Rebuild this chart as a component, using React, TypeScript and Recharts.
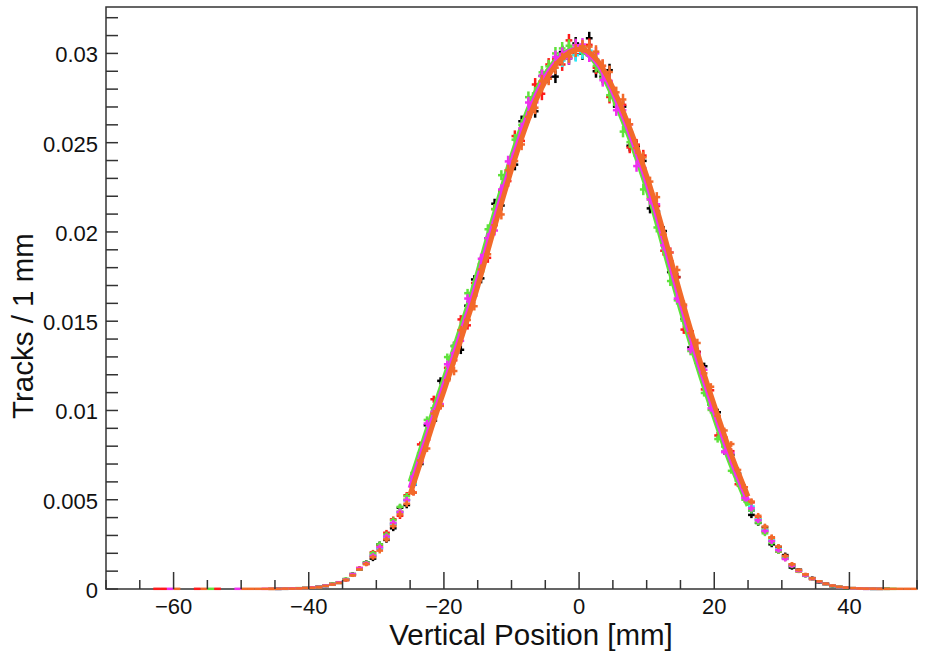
import React from "react";
import {
  ComposedChart,
  Scatter,
  Line,
  XAxis,
  YAxis,
  ErrorBar,
  ReferenceArea,
} from "recharts";

// bin contents are typed in units of 1e-5 tracks / mm
const UNIT = 1e-5;

const BIN_X = [
  -45.5, -44.5, -43.5, -42.5, -41.5, -40.5, -39.5, -38.5, -37.5, -36.5,
  -35.5, -34.5, -33.5, -32.5, -31.5, -30.5, -29.5, -28.5, -27.5, -26.5,
  -25.5, -24.5, -23.5, -22.5, -21.5, -20.5, -19.5, -18.5, -17.5, -16.5,
  -15.5, -14.5, -13.5, -12.5, -11.5, -10.5, -9.5, -8.5, -7.5, -6.5,
  -5.5, -4.5, -3.5, -2.5, -1.5, -0.5, 0.5, 1.5, 2.5, 3.5,
  4.5, 5.5, 6.5, 7.5, 8.5, 9.5, 10.5, 11.5, 12.5, 13.5,
  14.5, 15.5, 16.5, 17.5, 18.5, 19.5, 20.5, 21.5, 22.5, 23.5,
  24.5, 25.5, 26.5, 27.5, 28.5, 29.5, 30.5, 31.5, 32.5, 33.5,
  34.5, 35.5, 36.5, 37.5, 38.5, 39.5, 40.5, 41.5, 42.5, 43.5,
  44.5, 45.5,
];

// statistical error per bin (same units)
const BIN_ERR = [
  4, 4, 4, 4, 4, 4, 6, 6, 6, 6,
  6, 9, 9, 9, 12, 14, 16, 16, 16, 18,
  18, 16, 16, 20, 20, 20, 20, 24, 24, 24,
  24, 28, 28, 28, 28, 32, 32, 32, 32, 36,
  36, 36, 36, 36, 36, 36, 36, 36, 36, 36,
  36, 32, 32, 32, 32, 32, 28, 28, 28, 28,
  24, 24, 24, 24, 20, 20, 20, 16, 16, 16,
  18, 18, 16, 16, 16, 14, 14, 12, 9, 9,
  9, 6, 6, 6, 6, 6, 4, 4, 4, 4,
  4, 4,
];

const BLACK = [
  0, 1, 1, 2, 4, 6, 7, 13, 17, 29,
  34, 55, 84, 110, 150, 170, 250, 275, 340, 455,
  470, 600, 700, 917, 943, 1166, 1179, 1361, 1340, 1587,
  1734, 1740, 1965, 2158, 2148, 2345, 2377, 2620, 2675, 2676,
  2874, 2868, 2870, 3008, 2973, 3056, 3000, 3085, 2900, 2870,
  2906, 2702, 2702, 2483, 2479, 2398, 2132, 2115, 2005, 1775,
  1747, 1513, 1353, 1328, 1248, 1033, 990, 768, 752, 647,
  550, 415, 370, 345, 250, 235, 190, 120, 108, 74,
  61, 38, 30, 16, 12, 6, 5, 2, 2, 1,
  0, 1,
];

const RED = [
  1, 2, 2, 3, 3, 5, 9, 11, 19, 25,
  38, 50, 78, 118, 140, 205, 240, 315, 390, 410,
  525, 540, 810, 837, 1063, 1026, 1239, 1281, 1510, 1477,
  1714, 1820, 1855, 2128, 2228, 2285, 2537, 2510, 2645, 2826,
  2774, 2938, 2970, 2938, 3073, 2996, 3030, 3048, 2920, 2930,
  2756, 2722, 2712, 2473, 2489, 2428, 2192, 2145, 1895, 1835,
  1747, 1453, 1443, 1328, 1118, 1113, 860, 848, 772, 587,
  520, 485, 400, 320, 285, 210, 180, 138, 98, 82,
  55, 43, 26, 19, 10, 8, 3, 3, 1, 2,
  1, 0,
];

const GREEN = [
  1, 1, 3, 2, 5, 4, 8, 13, 20, 28,
  37, 56, 83, 112, 148, 200, 250, 305, 385, 460,
  520, 650, 760, 947, 1013, 1076, 1299, 1361, 1450, 1657,
  1694, 1780, 2015, 2128, 2318, 2335, 2517, 2600, 2755, 2776,
  2894, 2928, 3000, 3028, 3043, 3046, 3030, 2988, 2930, 2860,
  2766, 2712, 2562, 2503, 2429, 2238, 2182, 2025, 1945, 1725,
  1617, 1503, 1333, 1268, 1098, 1003, 840, 798, 662, 607,
  500, 440, 372, 312, 258, 210, 170, 128, 100, 75,
  56, 40, 27, 17, 11, 6, 4, 2, 2, 1,
  1, 1,
];

const BLUE = [
  0, 1, 2, 3, 4, 5, 8, 12, 17, 26,
  35, 52, 79, 115, 143, 186, 228, 292, 362, 430,
  498, 585, 735, 860, 970, 1080, 1195, 1315, 1425, 1550,
  1660, 1795, 1940, 2060, 2200, 2320, 2450, 2555, 2670, 2750,
  2838, 2895, 2955, 2985, 3010, 3020, 3018, 2995, 2955, 2905,
  2820, 2745, 2650, 2555, 2445, 2340, 2218, 2098, 1950, 1818,
  1672, 1545, 1410, 1290, 1165, 1055, 938, 830, 720, 628,
  532, 440, 388, 328, 270, 220, 175, 132, 104, 77,
  59, 40, 29, 18, 11, 7, 4, 3, 1, 1,
  1, 0,
];

const YELLOW = [
  1, 0, 2, 3, 4, 6, 8, 11, 18, 28,
  36, 54, 81, 113, 146, 190, 232, 288, 366, 436,
  502, 595, 745, 850, 980, 1090, 1205, 1305, 1435, 1540,
  1670, 1805, 1930, 2075, 2190, 2330, 2440, 2565, 2660, 2762,
  2828, 2905, 2945, 2995, 3005, 3030, 3015, 3005, 2965, 2895,
  2830, 2738, 2658, 2548, 2455, 2332, 2228, 2090, 1960, 1810,
  1682, 1538, 1418, 1283, 1172, 1048, 945, 822, 726, 622,
  545, 455, 392, 332, 275, 224, 170, 135, 101, 79,
  57, 42, 28, 19, 12, 7, 4, 3, 2, 1,
  1, 0,
];

const MAGENTA = [
  1, 1, 2, 3, 4, 5, 9, 12, 19, 27,
  37, 52, 82, 116, 144, 186, 234, 294, 370, 432,
  498, 630, 710, 927, 993, 1036, 1259, 1321, 1390, 1627,
  1644, 1850, 1965, 2008, 2238, 2395, 2437, 2580, 2725, 2726,
  2874, 2878, 2980, 2998, 2973, 3046, 3050, 2988, 3000, 2850,
  2846, 2682, 2682, 2603, 2369, 2358, 2182, 2155, 1925, 1885,
  1627, 1583, 1343, 1318, 1228, 1013, 960, 768, 762, 637,
  510, 452, 385, 326, 268, 218, 168, 130, 102, 76,
  57, 41, 28, 18, 11, 7, 4, 3, 2, 1,
  1, 0,
];

const CYAN = [
  0, 1, 2, 2, 4, 5, 7, 12, 18, 26,
  35, 53, 79, 113, 146, 188, 229, 289, 367, 432,
  499, 588, 738, 855, 975, 1082, 1196, 1308, 1428, 1545,
  1662, 1798, 1932, 2065, 2195, 2322, 2444, 2558, 2662, 2752,
  2830, 2890, 2940, 2960, 2985, 2990, 3005, 3015, 2965, 2905,
  2830, 2748, 2660, 2560, 2452, 2342, 2226, 2100, 1958, 1820,
  1680, 1548, 1415, 1292, 1170, 1056, 942, 830, 724, 630,
  538, 462, 390, 330, 272, 223, 173, 133, 103, 78,
  58, 41, 28, 18, 11, 7, 4, 3, 2, 1,
  1, 0,
];

const ORANGE = [
  1, 1, 2, 2, 3, 5, 7, 11, 17, 25,
  34, 50, 76, 110, 140, 178, 215, 278, 352, 418,
  478, 540, 720, 787, 983, 1026, 1169, 1221, 1450, 1507,
  1584, 1790, 1875, 2038, 2098, 2345, 2397, 2490, 2645, 2696,
  2844, 2858, 2920, 2968, 2983, 3016, 3040, 3038, 3010, 2930,
  2896, 2782, 2742, 2603, 2469, 2418, 2282, 2195, 1985, 1885,
  1787, 1593, 1433, 1378, 1208, 1133, 970, 888, 812, 667,
  570, 490, 410, 350, 290, 238, 185, 138, 107, 81,
  60, 43, 30, 19, 12, 8, 5, 3, 2, 2,
  1, 1,
];

// sparse far-tail entries (single tracks)
const FAR_RED_X = [-62.5, -61.5, -56.5, -53.5];
const FAR_RED_V = [1, 1, 1, 1];
const FAR_GREEN_X = [-54.5, 46.5];
const FAR_GREEN_V = [1, 1];
const FAR_MAGENTA_X = [-60.5, -50.5, -46.5];
const FAR_MAGENTA_V = [1, 1, 1];
const FAR_ORANGE_X = [-59.5, -55.5, -49.5, -48.5, -47.5, -46.5, 46.5, 47.5, 48.5, 49.5];
const FAR_ORANGE_V = [1, 1, 1, 1, 1, 1, 1, 1, 1, 1];

// fitted curves, sampled every 1 mm from -25 to 25
const FIT_X = [
  -25, -24, -23, -22, -21, -20, -19, -18, -17, -16,
  -15, -14, -13, -12, -11, -10, -9, -8, -7, -6,
  -5, -4, -3, -2, -1, 0, 1, 2, 3, 4,
  5, 6, 7, 8, 9, 10, 11, 12, 13, 14,
  15, 16, 17, 18, 19, 20, 21, 22, 23, 24,
  25,
];
const FIT_GREEN = [
  600, 716, 833, 950, 1064, 1176, 1290, 1406, 1523, 1643,
  1773, 1908, 2041, 2172, 2299, 2421, 2536, 2642, 2736, 2817,
  2884, 2938, 2979, 3006, 3023, 3024, 3003, 2968, 2912, 2841,
  2759, 2669, 2573, 2470, 2360, 2245, 2120, 1983, 1843, 1705,
  1570, 1440, 1313, 1192, 1076, 962, 851, 743, 646, 556,
  466,
];
const FIT_MAGENTA = [
  565, 681, 798, 915, 1030, 1142, 1255, 1370, 1488, 1605,
  1732, 1868, 2001, 2133, 2261, 2386, 2503, 2612, 2710, 2795,
  2866, 2924, 2969, 3000, 3019, 3027, 3009, 2979, 2930, 2863,
  2784, 2697, 2602, 2501, 2393, 2280, 2158, 2025, 1885, 1746,
  1610, 1478, 1350, 1228, 1110, 996, 884, 775, 674, 583,
  492,
];
const FIT_ORANGE = [
  530, 646, 763, 880, 996, 1108, 1222, 1335, 1453, 1570,
  1694, 1827, 1961, 2094, 2223, 2349, 2467, 2579, 2680, 2769,
  2844, 2906, 2955, 2990, 3013, 3024, 3017, 2989, 2946, 2883,
  2807, 2723, 2630, 2531, 2425, 2314, 2194, 2065, 1927, 1788,
  1651, 1518, 1389, 1265, 1146, 1031, 918, 808, 705, 611,
  518,
];

const X_TICKS = [
  -70, -65, -60, -55, -50, -45, -40, -35, -30, -25, -20, -15, -10, -5,
  0, 5, 10, 15, 20, 25, 30, 35, 40, 45, 50,
];
const X_LABEL_VALUES = [-60, -40, -20, 0, 20, 40];
const X_LABELS = ["\u221260", "\u221240", "\u221220", "0", "20", "40"];

const Y_TICKS = [
  0, 0.001, 0.002, 0.003, 0.004, 0.005, 0.006, 0.007, 0.008, 0.009, 0.01,
  0.011, 0.012, 0.013, 0.014, 0.015, 0.016, 0.017, 0.018, 0.019, 0.02,
  0.021, 0.022, 0.023, 0.024, 0.025, 0.026, 0.027, 0.028, 0.029, 0.03,
  0.031, 0.032,
];
const Y_LABEL_VALUES = [0, 0.005, 0.01, 0.015, 0.02, 0.025, 0.03];
const Y_LABELS = ["0", "0.005", "0.01", "0.015", "0.02", "0.025", "0.03"];
const Y_MAX = 0.0326;

const FONT = "'Liberation Sans', Arial, Helvetica, sans-serif";
const AXIS = "#333";

const histRows = (xs: number[], vals: number[], errs?: number[]) =>
  xs
    .map((x, i) => ({
      x,
      v: vals[i] * UNIT,
      ey: (errs ? errs[i] : 3) * UNIT,
      ex: 0.5,
    }))
    .filter((r) => r.v > 0);

const fitRows = (vals: number[]) => FIT_X.map((x, i) => ({ x, v: vals[i] * UNIT }));

const HISTS = [
  { key: "black", color: "#000000", rows: histRows(BIN_X, BLACK, BIN_ERR) },
  { key: "red", color: "#ff1a1a", rows: [...histRows(BIN_X, RED, BIN_ERR), ...histRows(FAR_RED_X, FAR_RED_V)] },
  { key: "blue", color: "#1010ff", rows: histRows(BIN_X, BLUE, BIN_ERR) },
  { key: "yellow", color: "#ffee00", rows: histRows(BIN_X, YELLOW, BIN_ERR) },
  { key: "cyan", color: "#22eeff", rows: histRows(BIN_X, CYAN, BIN_ERR) },
  {
    key: "green",
    color: "#5fe23c",
    rows: [...histRows(BIN_X, GREEN, BIN_ERR), ...histRows(FAR_GREEN_X, FAR_GREEN_V)],
    fit: fitRows(FIT_GREEN),
  },
  {
    key: "magenta",
    color: "#f02ff0",
    rows: [...histRows(BIN_X, MAGENTA, BIN_ERR), ...histRows(FAR_MAGENTA_X, FAR_MAGENTA_V)],
    fit: fitRows(FIT_MAGENTA),
  },
  {
    key: "orange",
    color: "#f26a2a",
    rows: [...histRows(BIN_X, ORANGE, BIN_ERR), ...histRows(FAR_ORANGE_X, FAR_ORANGE_V)],
    fit: fitRows(FIT_ORANGE),
  },
];

const NoMarker = () => <g />;

function XTick({ x, y, payload }: any) {
  const i = X_LABEL_VALUES.indexOf(payload.value);
  return (
    <g>
      <line x1={x} x2={x} y1={y} y2={y - (i >= 0 ? 17 : 9)} stroke={AXIS} strokeWidth={1.5} />
      {i >= 0 && (
        <text x={x} y={y + 25} textAnchor="middle" fontSize={22} fontFamily={FONT} fill="#111">
          {X_LABELS[i]}
        </text>
      )}
    </g>
  );
}

function YTick({ x, y, payload }: any) {
  const i = Y_LABEL_VALUES.findIndex((t) => Math.abs(t - payload.value) < 1e-9);
  return (
    <g>
      <line x1={x} x2={x + 12} y1={y} y2={y} stroke={AXIS} strokeWidth={1.5} />
      {i >= 0 && (
        <text x={x - 8} y={y + 9} textAnchor="end" fontSize={22} fontFamily={FONT} fill="#111">
          {Y_LABELS[i]}
        </text>
      )}
    </g>
  );
}

export default function App() {
  return (
    <div style={{ position: "absolute", left: 0, top: 0, width: 931, height: 657, background: "#fff" }}>
      <ComposedChart width={931} height={657} margin={{ top: 7, right: 14, bottom: 0, left: 0 }}>
        <XAxis
          dataKey="x"
          type="number"
          domain={[-70, 50]}
          ticks={X_TICKS}
          interval={0}
          allowDataOverflow
          height={68}
          axisLine={false}
          tickLine={false}
          tickSize={0}
          tickMargin={0}
          tick={<XTick />}
        />
        <YAxis
          dataKey="v"
          type="number"
          domain={[0, Y_MAX]}
          ticks={Y_TICKS}
          interval={0}
          allowDataOverflow
          width={106}
          axisLine={false}
          tickLine={false}
          tickSize={0}
          tickMargin={0}
          tick={<YTick />}
        />
        {HISTS.flatMap((h) => {
          const items = [
            <Scatter
              key={h.key}
              data={h.rows}
              dataKey="v"
              shape={NoMarker}
              isAnimationActive={false}
            >
              <ErrorBar dataKey="ex" direction="x" width={0} stroke={h.color} strokeWidth={2.5} isAnimationActive={false} />
              <ErrorBar dataKey="ey" direction="y" width={0} stroke={h.color} strokeWidth={2.5} isAnimationActive={false} />
            </Scatter>,
          ];
          if (h.fit) {
            items.push(
              <Line
                key={h.key + "-fit"}
                data={h.fit}
                dataKey="v"
                type="monotone"
                stroke={h.color}
                strokeWidth={5}
                dot={false}
                activeDot={false}
                isAnimationActive={false}
              />
            );
          }
          return items;
        })}
        <ReferenceArea
          x1={-70}
          x2={50}
          y1={0}
          y2={Y_MAX}
          fill="none"
          fillOpacity={0}
          stroke={AXIS}
          strokeWidth={1.5}
          ifOverflow="visible"
        />
      </ComposedChart>
      <svg
        width={931}
        height={657}
        style={{ position: "absolute", left: 0, top: 0, pointerEvents: "none" }}
      >
        <text x={531} y={645} textAnchor="middle" fontSize={29.5} fontFamily={FONT} fill="#111">
          Vertical Position [mm]
        </text>
        <text
          x={-326}
          y={33}
          transform="rotate(-90)"
          textAnchor="middle"
          fontSize={29.5}
          fontFamily={FONT}
          fill="#111"
        >
          Tracks / 1 mm
        </text>
      </svg>
    </div>
  );
}
